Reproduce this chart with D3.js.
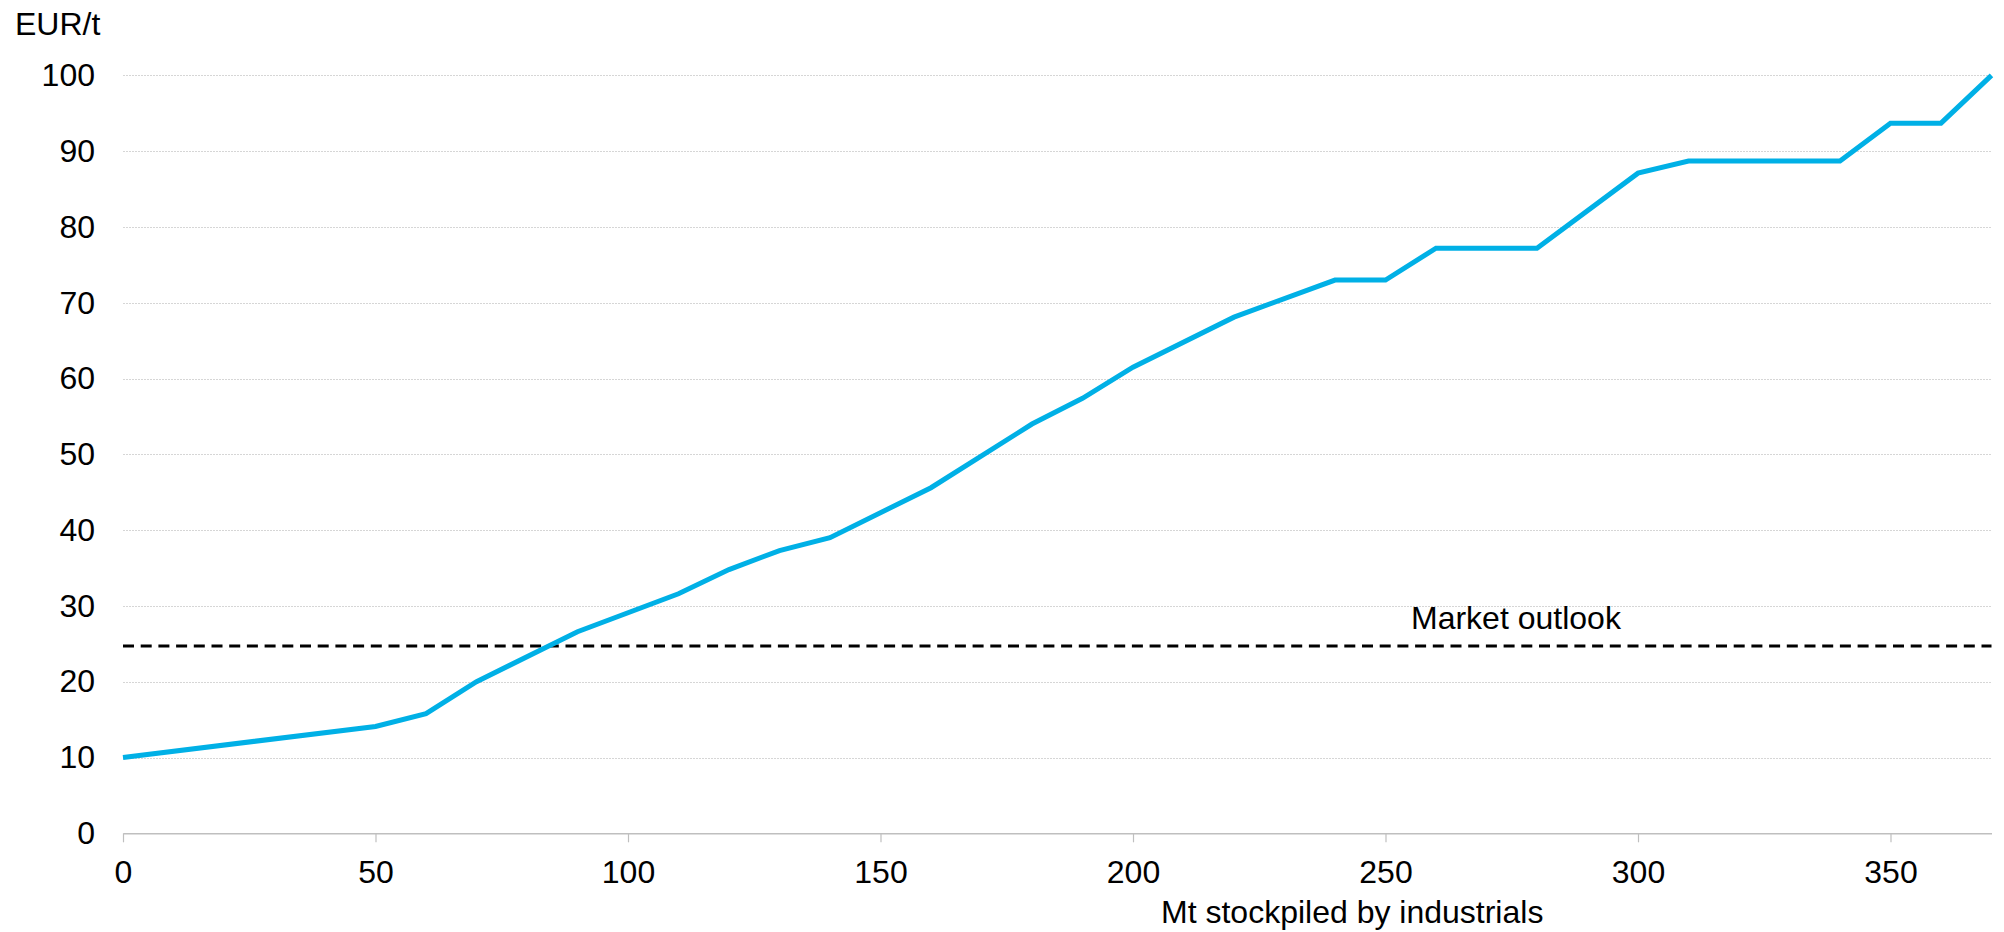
<!DOCTYPE html>
<html>
<head>
<meta charset="utf-8">
<script src="https://cdn.jsdelivr.net/npm/d3@7"></script>
<style>
  html, body { margin: 0; padding: 0; background: #ffffff; }
  svg { display: block; }
  text { font-family: "Liberation Sans", Arial, sans-serif; fill: #000; }
</style>
</head>
<body>
<svg id="chart" width="2004" height="932"></svg>
<script>
// Stockpiled volume (Mt) and the corresponding price (EUR/t)
const stockpiled = [0, 50, 60, 70, 90, 110, 120, 130, 140, 160, 180, 190, 200, 220, 240, 250, 260, 280, 300, 310, 340, 350, 360, 370];
const price      = [10, 14.1, 15.8, 20, 26.6, 31.6, 34.8, 37.3, 39.0, 45.6, 54.0, 57.4, 61.5, 68.1, 73.0, 73.0, 77.2, 77.2, 87.1, 88.7, 88.7, 93.7, 93.7, 100];

// Reference price level
const marketOutlook = 24.7;
const marketLabel = "Market outlook";

// Axis ticks and titles
const xTicks = [0, 50, 100, 150, 200, 250, 300, 350];
const yTicks = [0, 10, 20, 30, 40, 50, 60, 70, 80, 90, 100];
const xTitle = "Mt stockpiled by industrials";
const yTitle = "EUR/t";

const svg = d3.select("#chart");

const x = d3.scaleLinear().domain([0, 370]).range([123, 1991.5]);
const y = d3.scaleLinear().domain([0, 100]).range([833.3, 75.4]);

const fontSize = 32;

// Horizontal gridlines
svg.append("g")
  .selectAll("line")
  .data(yTicks.filter(d => d > 0))
  .join("line")
  .attr("x1", x(0)).attr("x2", x(370))
  .attr("y1", d => Math.round(y(d)) + 0.5).attr("y2", d => Math.round(y(d)) + 0.5)
  .attr("stroke", "#d6d6d6")
  .attr("stroke-width", 1)
  .attr("stroke-dasharray", "2,1");

// Y axis labels (no line or ticks)
const yAxis = svg.append("g")
  .attr("transform", `translate(${x(0)},0)`)
  .call(d3.axisLeft(y).tickValues(yTicks).tickSize(0).tickPadding(28).tickFormat(d3.format("d")));
yAxis.select(".domain").remove();
yAxis.selectAll("text")
  .attr("font-size", fontSize)
  .attr("font-family", "Liberation Sans, Arial, sans-serif")
  .attr("fill", "#000");

// X axis with baseline and downward ticks
const xAxis = svg.append("g")
  .attr("transform", `translate(0,${y(0)})`)
  .call(d3.axisBottom(x).tickValues(xTicks).tickSize(9).tickSizeOuter(0).tickPadding(17.5).tickFormat(d3.format("d")));
xAxis.select(".domain").attr("stroke", "#bfbfbf").attr("stroke-width", 1.5);
xAxis.selectAll(".tick line").attr("stroke", "#bfbfbf").attr("stroke-width", 1.2);
xAxis.selectAll("text")
  .attr("font-size", fontSize)
  .attr("font-family", "Liberation Sans, Arial, sans-serif")
  .attr("fill", "#000");

// Market outlook dashed line
svg.append("line")
  .attr("x1", x(0)).attr("x2", x(370))
  .attr("y1", y(marketOutlook)).attr("y2", y(marketOutlook))
  .attr("stroke", "#000")
  .attr("stroke-width", 3)
  .attr("stroke-dasharray", "11,6.7");

svg.append("text")
  .attr("x", 1411)
  .attr("y", 628.5)
  .attr("font-size", fontSize)
  .text(marketLabel);

// Price curve
const points = stockpiled.map((s, i) => [s, price[i]]);
svg.append("path")
  .datum(points)
  .attr("fill", "none")
  .attr("stroke", "#00b0e6")
  .attr("stroke-width", 5)
  .attr("stroke-linejoin", "miter")
  .attr("d", d3.line().x(d => x(d[0])).y(d => y(d[1])));

// Axis titles
svg.append("text")
  .attr("x", 15)
  .attr("y", 35)
  .attr("font-size", fontSize)
  .text(yTitle);

svg.append("text")
  .attr("x", 1161)
  .attr("y", 923)
  .attr("font-size", fontSize)
  .text(xTitle);
</script>
</body>
</html>
